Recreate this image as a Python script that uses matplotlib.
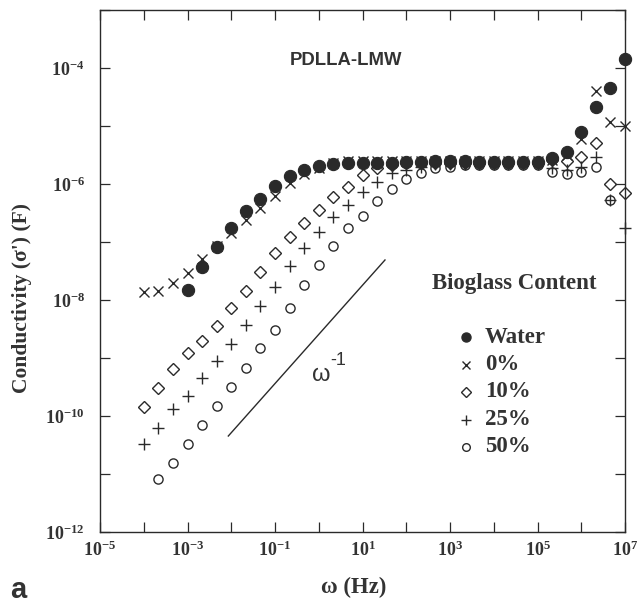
import numpy as np
import matplotlib
matplotlib.use("Agg")
import matplotlib.pyplot as plt

# ---------------- data (log10 values) ----------------
# frequency exponents (log10 of omega in Hz)
freq_exp_all = [-4.0, -3.667, -3.333, -3.0, -2.667, -2.333, -2.0, -1.667, -1.333,
                -1.0, -0.667, -0.333, 0.0, 0.333, 0.667, 1.0, 1.333, 1.667, 2.0,
                2.333, 2.667, 3.0, 3.333, 3.667, 4.0, 4.333, 4.667, 5.0, 5.333,
                5.667, 6.0, 6.333, 6.667, 7.0]

water_start = 3   # index into freq_exp_all
water_log = [-7.82, -7.43, -7.08, -6.75, -6.46, -6.25, -6.03, -5.86, -5.76, -5.69,
             -5.66, -5.64, -5.64, -5.63, -5.63, -5.62, -5.62, -5.61, -5.61, -5.61,
             -5.62, -5.62, -5.62, -5.62, -5.62, -5.56, -5.44, -5.10, -4.67, -4.35,
             -3.85]

p0_start = 0
p0_log = [-7.86, -7.84, -7.70, -7.53, -7.30, -7.07, -6.85, -6.62, -6.42, -6.21,
          -5.98, -5.82, -5.72, -5.64, -5.61, -5.60, -5.60, -5.60, -5.60, -5.60,
          -5.60, -5.60, -5.60, -5.60, -5.60, -5.60, -5.60, -5.60, -5.58, -5.50,
          -5.23, -4.39, -4.93, -5.00]

p10_start = 0
p10_log = [-9.85, -9.52, -9.19, -8.91, -8.70, -8.45, -8.14, -7.84, -7.51, -7.19,
           -6.91, -6.68, -6.45, -6.23, -6.05, -5.84, -5.73, -5.67, -5.64, -5.63,
           -5.63, -5.63, -5.63, -5.63, -5.63, -5.63, -5.63, -5.63, -5.58, -5.60,
           -5.54, -5.29, -6.00, -6.16]

p25_start = 0
p25_log = [-10.48, -10.20, -9.88, -9.66, -9.35, -9.05, -8.75, -8.43, -8.10, -7.77,
           -7.41, -7.11, -6.82, -6.57, -6.36, -6.13, -5.96, -5.81, -5.76, -5.70,
           -5.66, -5.65, -5.65, -5.65, -5.65, -5.65, -5.65, -5.65, -5.72, -5.76,
           -5.70, -5.53, -6.28, -6.75]

p50_start = 1
p50_log = [-11.09, -10.81, -10.48, -10.16, -9.83, -9.50, -9.18, -8.83, -8.51, -8.13,
           -7.74, -7.40, -7.07, -6.76, -6.55, -6.29, -6.09, -5.92, -5.81, -5.73,
           -5.70, -5.67, -5.67, -5.67, -5.67, -5.67, -5.67, -5.79, -5.82, -5.79,
           -5.71, -6.28]

# guide line labelled omega^-1 (endpoints, log10)
guide_x_exp = [-2.067, 1.514]
guide_y_exp = [-10.345, -7.31]

legend_labels = ["Water", "0%", "10%", "25%", "50%"]
xtick_exp = list(range(-5, 8))
ytick_exp = list(range(-12, -2))
xlabel_exp = [-5, -3, -1, 1, 3, 5, 7]
ylabel_exp = [-12, -10, -8, -6, -4]

# ---------------- style ----------------
plt.rcParams['mathtext.fontset'] = 'custom'
plt.rcParams['mathtext.rm'] = 'Liberation Serif:bold'
plt.rcParams['mathtext.it'] = 'Liberation Serif:bold'
plt.rcParams['mathtext.bf'] = 'Liberation Serif:bold'
plt.rcParams['mathtext.default'] = 'rm'

ink = '#2a2a2a'
txt = '#333333'
serif = ['Liberation Serif', 'DejaVu Serif']
sans = ['Liberation Sans', 'DejaVu Sans']

fig = plt.figure(figsize=(6.38, 6.03), dpi=100)
ax = fig.add_axes([100/638, 1-532/603, 525/638, 522/603])

fa = np.array(freq_exp_all)


def series(start, vals):
    e = fa[start:start + len(vals)]
    return 10.0 ** e, 10.0 ** np.array(vals)


styles = [
    (water_start, water_log, dict(marker='o', ms=8.8, mfc=ink, mec=ink, mew=0.8)),
    (p0_start, p0_log, dict(marker='x', ms=7.5, mec=ink, mew=1.0)),
    (p10_start, p10_log, dict(marker='D', ms=6.2, mfc='none', mec=ink, mew=1.0)),
    (p25_start, p25_log, dict(marker='+', ms=8.5, mec=ink, mew=1.0)),
    (p50_start, p50_log, dict(marker='o', ms=6.6, mfc='none', mec=ink, mew=1.0)),
]
order = [4, 3, 2, 1, 0]
for i in order:
    st, vals, kw = styles[i]
    x, y = series(st, vals)
    ax.plot(x, y, linestyle='none', clip_on=False, zorder=3 + (i == 0), **kw)

# guide line
ax.plot(10.0 ** np.array(guide_x_exp), 10.0 ** np.array(guide_y_exp),
        color=ink, lw=1.0, zorder=2)

ax.set_xscale('log')
ax.set_yscale('log')
ax.set_xlim(1e-5, 1e7)
ax.set_ylim(1e-12, 1e-3)

ax.set_xticks([10.0 ** e for e in xtick_exp])
ax.set_xticklabels([r'$10^{%d}$' % e if e in xlabel_exp else '' for e in xtick_exp])
ax.set_yticks([10.0 ** e for e in ytick_exp])
ax.set_yticklabels([r'$10^{%d}$' % e if e in ylabel_exp else '' for e in ytick_exp])
ax.minorticks_off()
ax.tick_params(which='major', direction='in', length=7.5, width=0.9,
               top=True, right=True, labelsize=13, colors=ink, labelcolor=txt)
ax.tick_params(axis='x', pad=6)
ax.tick_params(axis='y', pad=11)
for s in ax.spines.values():
    s.set_linewidth(1.0)
    s.set_color(ink)

# texts
ax.text(0.4686, 0.904, 'PDLLA-LMW', transform=ax.transAxes, ha='center',
        va='center', fontsize=13.3, fontweight='bold', family=sans, color=txt)
ax.text(0.404, 0.300, 'ω', transform=ax.transAxes, ha='left', va='center',
        fontsize=17, family=sans, color=txt)
ax.text(0.438, 0.328, '-1', transform=ax.transAxes, ha='left', va='center',
        fontsize=13, family=sans, color=txt)
ax.text(0.632, 0.477, 'Bioglass Content', transform=ax.transAxes, ha='left',
        va='center', fontsize=16.5, fontweight='bold', family=serif, color=txt)

leg_y = [0.373, 0.320, 0.269, 0.2146, 0.1634]
leg_kw = [dict(marker='o', ms=6.5, mfc=ink, mec=ink),
          dict(marker='x', ms=6, mec=ink, mew=1.0),
          dict(marker='D', ms=5.2, mfc='none', mec=ink, mew=1.0),
          dict(marker='+', ms=7, mec=ink, mew=1.0),
          dict(marker='o', ms=5.5, mfc='none', mec=ink, mew=1.0)]
for lab, yy, kw in zip(legend_labels, leg_y, leg_kw):
    ax.plot([0.697], [yy], transform=ax.transAxes, linestyle='none', **kw)
    ax.text(0.733, yy, lab, transform=ax.transAxes, ha='left', va='center',
            fontsize=16.5, fontweight='bold', family=serif, color=txt)

fig.text(22/638, 1-298/603, "Conductivity (σ') (F)", rotation=90, ha='center',
         va='center', fontsize=15.5, fontweight='bold', family=serif, color=txt)
fig.text(354/638, 1-587/603, 'ω (Hz)', ha='center', va='center', fontsize=16.5,
         fontweight='bold', family=serif, color=txt)
fig.text(18/638, 1-590/603, 'a', ha='center', va='center', fontsize=21,
         fontweight='bold', family=sans, color=txt)

fig.savefig('out.png', dpi=100)
